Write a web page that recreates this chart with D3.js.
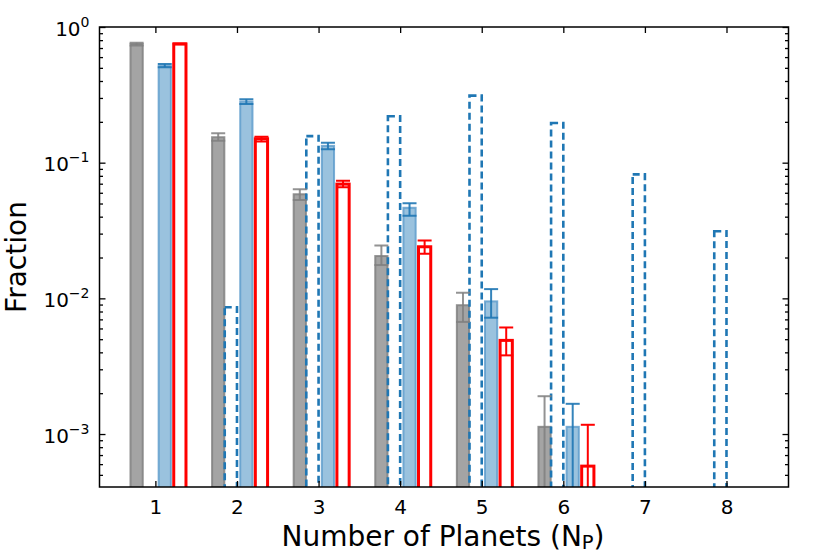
<!DOCTYPE html>
<html>
<head>
<meta charset="utf-8">
<script src="https://cdn.jsdelivr.net/npm/d3@7"></script>
<style>
  body { margin: 0; background: #fff; }
  svg text { font-family: "DejaVu Sans", sans-serif; fill: #000; }
</style>
</head>
<body>
<svg id="chart" width="830" height="554"></svg>
<script>
// planet multiplicity, N = 1..6 for the three measured samples
let nObs = [1, 2, 3, 4, 5, 6];
let grayVals = [0.75, 0.154, 0.0585, 0.0205, 0.0089, 0.00113];
let grayLo   = [0.73, 0.145, 0.0531, 0.0176, 0.0067, 0.0002];
let grayHi   = [0.765, 0.165, 0.0637, 0.0245, 0.011, 0.0019];
let blueVals = [0.516, 0.282, 0.133, 0.0465, 0.0095, 0.00113];
let blueLo   = [0.505, 0.271, 0.1255, 0.0406, 0.0072, 0.0002];
let blueHi   = [0.533, 0.293, 0.14, 0.0502, 0.0117, 0.00167];
let redVals  = [0.75, 0.15, 0.0695, 0.024, 0.0049, 0.00058];
let redLo    = [0.745, 0.143, 0.0659, 0.0213, 0.0038, 0.0002];
let redHi    = [0.755, 0.155, 0.0737, 0.0267, 0.0061, 0.00117];
// dashed model histogram, N = 1..8 (none at N=1)
let nModel = [1, 2, 3, 4, 5, 6, 7, 8];
let dashVals = [null, 0.0086, 0.157, 0.22, 0.312, 0.196, 0.082, 0.0312];
let xTicks = [1, 2, 3, 4, 5, 6, 7, 8];
let yTicks = [1e-3, 1e-2, 1e-1, 1];

let svg = d3.select("#chart");
let L = 99.5, R = 788.5, T = 27, B = 487;

let x = d3.scaleLinear().domain([0.315, 8.76]).range([L, R]);
let y = d3.scaleLog().domain([4.07e-4, 1]).range([B, T]);
let bw = 0.15; // bar width in data units

svg.append("clipPath").attr("id", "clip").append("rect")
  .attr("x", L).attr("y", T).attr("width", R - L).attr("height", B - T);
let g = svg.append("g").attr("clip-path", "url(#clip)");

function bars(vals, off, cls) {
  return g.selectAll("rect." + cls).data(nObs.map((n, i) => [n, vals[i]])).enter()
    .append("rect").attr("class", cls)
    .attr("x", d => x(d[0] + off - bw / 2))
    .attr("width", d => x(d[0] + off + bw / 2) - x(d[0] + off - bw / 2))
    .attr("y", d => y(d[1]))
    .attr("height", d => B + 10 - y(d[1]));
}

bars(grayVals, -0.23, "gray").attr("fill", "#a4a4a4").attr("stroke", "#808080")
  .attr("stroke-width", 2).attr("stroke-opacity", 0.85);

g.selectAll("rect.dash").data(nModel.map((n, i) => [n, dashVals[i]]).filter(d => d[1])).enter()
  .append("rect").attr("class", "dash")
  .attr("x", d => x(d[0] - bw))
  .attr("width", d => x(d[0]) - x(d[0] - bw))
  .attr("y", d => y(d[1]))
  .attr("height", d => B + 10 - y(d[1]))
  .attr("fill", "none").attr("stroke", "#1f77b4").attr("stroke-width", 2.6)
  .attr("stroke-dasharray", "7,4");

bars(blueVals, 0.115, "blue").attr("fill", "#9ac2de").attr("stroke", "#5a9acb")
  .attr("stroke-width", 2).attr("stroke-opacity", 0.8);

bars(redVals, 0.30, "red").attr("fill", "none").attr("stroke", "#ff0000")
  .attr("stroke-width", 3);

function errs(lo, hi, off, col, op) {
  let data = nObs.map((n, i) => [n, lo[i], hi[i]]);
  let eg = g.append("g").attr("stroke", col).attr("stroke-width", 2).attr("stroke-opacity", op);
  eg.selectAll("line.v").data(data).enter().append("line").attr("class", "v")
    .attr("x1", d => x(d[0] + off)).attr("x2", d => x(d[0] + off))
    .attr("y1", d => y(d[1])).attr("y2", d => y(d[2]));
  [1, 2].forEach(k => {
    eg.selectAll("line.c" + k).data(data).enter().append("line").attr("class", "c" + k)
      .attr("x1", d => x(d[0] + off) - 7).attr("x2", d => x(d[0] + off) + 7)
      .attr("y1", d => y(d[k])).attr("y2", d => y(d[k]));
  });
}
errs(grayLo, grayHi, -0.23, "#808080", 0.85);
errs(blueLo, blueHi, 0.115, "#1f77b4", 0.9);
errs(redLo, redHi, 0.30, "#ff0000", 1);

// axes with inward ticks on all sides
let minor = y.ticks().filter(v => !yTicks.includes(v));
let xa = d3.axisBottom(x).tickValues(xTicks).tickSizeInner(-6).tickSizeOuter(0).tickPadding(13);
let xg = svg.append("g").attr("transform", `translate(0,${B})`).call(xa);
xg.selectAll("text").style("font-size", "20px");
svg.append("g").attr("transform", `translate(0,${T})`)
  .call(d3.axisTop(x).tickValues(xTicks).tickSizeInner(-6).tickSizeOuter(0).tickFormat(""));

[[L, d3.axisLeft], [R, d3.axisRight]].forEach(([px, ax]) => {
  let a = svg.append("g").attr("transform", `translate(${px},0)`);
  a.call(ax(y).tickValues(yTicks).tickSizeInner(-6).tickSizeOuter(0).tickFormat(""));
  a.append("g").call(ax(y).tickValues(minor).tickSizeInner(-3.5).tickSizeOuter(0).tickFormat(""));
});
svg.selectAll(".tick line").attr("stroke", "#000").attr("stroke-width", 1.3);
svg.selectAll("path.domain").remove();

let yl = svg.append("g").selectAll("text").data(yTicks).enter().append("text")
  .attr("x", L - 10).attr("y", d => y(d) + 8.5).attr("text-anchor", "end")
  .style("font-size", "20px");
yl.append("tspan").text("10");
yl.append("tspan").attr("dy", -9).style("font-size", "14px")
  .text(d => d === 1 ? "0" : "\u2212" + Math.round(-Math.log10(d)));

svg.append("rect").attr("x", L).attr("y", T).attr("width", R - L).attr("height", B - T)
  .attr("fill", "none").attr("stroke", "#000").attr("stroke-width", 1.5);

svg.append("text").attr("transform", `translate(26,${(T + B) / 2}) rotate(-90)`)
  .attr("text-anchor", "middle").style("font-size", "28px").text("Fraction");

let xl = svg.append("text").attr("x", (L + R) / 2 - 1).attr("y", 546)
  .attr("text-anchor", "middle").style("font-size", "28px");
xl.append("tspan").text("Number of Planets (N");
xl.append("tspan").attr("dy", 3).style("font-size", "19.5px").text("P");
xl.append("tspan").attr("dy", -3).text(")");
</script>
</body>
</html>
